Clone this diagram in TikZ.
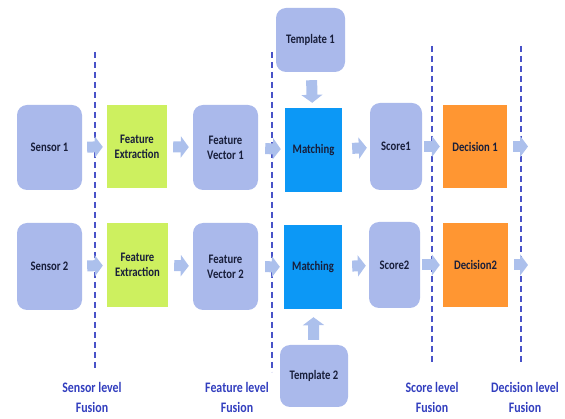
\documentclass[tikz,border=0pt]{standalone}
\usepackage{fontspec}
\setmainfont{Carlito}
\newfontfamily\narrowfont[FakeStretch=0.82]{Carlito}
\usepackage{tikz}
\usetikzlibrary{positioning,arrows.meta}

\definecolor{boxlav}{RGB}{170,185,235}
\definecolor{arrlav}{RGB}{172,192,236}
\definecolor{featgreen}{RGB}{205,240,95}
\definecolor{matchblue}{RGB}{12,152,246}
\definecolor{decorange}{RGB}{255,150,50}
\definecolor{fuseblue}{RGB}{72,82,200}
\definecolor{labelblue}{RGB}{50,62,190}
\definecolor{boxtext}{RGB}{24,30,58}

\tikzset{
  softbox/.style={fill=boxlav, rounded corners=10pt, align=center,
    text=boxtext, font=\narrowfont\fontsize{13}{15}\selectfont\bfseries},
  flatbox/.style={align=center, text=boxtext,
    font=\narrowfont\fontsize{13}{15}\selectfont\bfseries},
  fatarrow/.style={draw=arrlav, line width=11pt,
    -{Triangle[length=8pt,width=21pt]}, shorten <=5pt, shorten >=4pt},
  fusionline/.style={draw=fuseblue, line width=1.4pt, dash pattern=on 6pt off 4pt},
  fusionlabel/.style={align=center, text=labelblue, anchor=north, inner sep=2pt,
    font=\narrowfont\fontsize{14.5}{20}\selectfont\bfseries}
}

\begin{document}
\begin{tikzpicture}[x=1pt,y=-1pt]
  \useasboundingbox (0,0) rectangle (565,419);

  % fusion boundaries
  \draw[fusionline] (95,52) -- (95,370);
  \draw[fusionline] (272,52) -- (272,372);
  \draw[fusionline] (432,46) -- (432,364);
  \draw[fusionline] (521,46) -- (521,364);

  % upper chain
  \node[softbox, minimum width=65pt, minimum height=85pt] (sensorA) at (49.5,147.5) {Sensor 1};
  \node[flatbox, fill=featgreen, minimum width=60pt, minimum height=83pt] (extractA) at (137,146.5) {Feature\\Extraction};
  \node[softbox, minimum width=65pt, minimum height=85pt] (vectorA) at (225.5,147.5) {Feature\\Vector 1};
  \node[softbox, minimum width=69pt, minimum height=64pt] (templA) at (310.5,40) {Template 1};
  \node[flatbox, fill=matchblue, minimum width=57pt, minimum height=84pt] (matchA) at (313.5,150) {Matching};
  \node[softbox, minimum width=52pt, minimum height=87pt] (scoreA) at (396,146.5) {Score1};
  \node[flatbox, fill=decorange, minimum width=64pt, minimum height=83pt] (decideA) at (475,146.5) {Decision 1};
  \coordinate (outA) at (528,146.5);

  % lower chain
  \node[softbox, minimum width=65pt, minimum height=87pt] (sensorB) at (49.5,266.5) {Sensor 2};
  \node[flatbox, fill=featgreen, minimum width=61pt, minimum height=84pt] (extractB) at (137.5,265) {Feature\\Extraction};
  \node[softbox, minimum width=65pt, minimum height=87pt] (vectorB) at (225.5,266.5) {Feature\\Vector 2};
  \node[flatbox, fill=matchblue, minimum width=58pt, minimum height=84pt] (matchB) at (313,267) {Matching};
  \node[softbox, minimum width=51pt, minimum height=86pt] (scoreB) at (394.5,265) {Score2};
  \node[flatbox, fill=decorange, minimum width=65pt, minimum height=84pt] (decideB) at (475.5,265) {Decision2};
  \node[softbox, minimum width=68pt, minimum height=62pt] (templB) at (314,376) {Template 2};
  \coordinate (outB) at (528,265);

  % block arrows
  \draw[fatarrow] (sensorA) -- (extractA);
  \draw[fatarrow, shorten <=6pt] (extractA) -- (vectorA);
  \draw[fatarrow, shorten <=7pt] (vectorA) -- (matchA);
  \draw[fatarrow, shorten <=10pt, shorten >=3pt] (matchA) -- (scoreA);
  \draw[fatarrow, shorten <=2pt, shorten >=3pt] (scoreA) -- (decideA);
  \draw[fatarrow, shorten <=6pt, shorten >=0pt] (decideA) -- (outA);
  \draw[fatarrow, shorten <=8pt, shorten >=5pt] (templA) -- (matchA);

  \draw[fatarrow] (sensorB) -- (extractB);
  \draw[fatarrow, shorten <=6pt] (extractB) -- (vectorB);
  \draw[fatarrow, shorten <=7pt] (vectorB) -- (matchB);
  \draw[fatarrow, shorten <=10pt, shorten >=3pt] (matchB) -- (scoreB);
  \draw[fatarrow, shorten <=2pt, shorten >=3pt] (scoreB) -- (decideB);
  \draw[fatarrow, shorten <=6pt, shorten >=0pt] (decideB) -- (outB);
  \draw[fatarrow, shorten <=5pt, shorten >=8pt] (templB) -- (matchB);

  % level labels
  \node[fusionlabel] (lblSensor) at (92,380) {Sensor level\\Fusion};
  \node[fusionlabel] (lblFeature) at (237,380) {Feature level\\Fusion};
  \node[fusionlabel] (lblScore) at (432,380) {Score level\\Fusion};
  \node[fusionlabel] (lblDecision) at (525,380) {Decision level\\Fusion};
\end{tikzpicture}
\end{document}
